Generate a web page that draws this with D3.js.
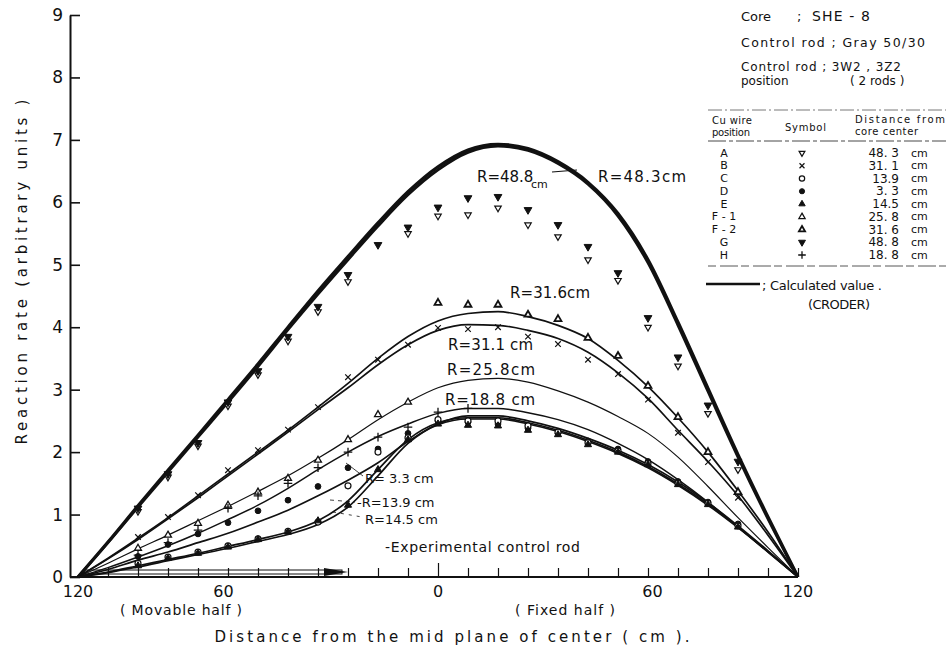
<!DOCTYPE html>
<html><head><meta charset="utf-8">
<script src="https://cdn.jsdelivr.net/npm/d3@7"></script>
<style>
body{margin:0;background:#fff;}
svg text{font-family:"DejaVu Sans",sans-serif;fill:#111;}
</style></head><body>
<svg id="c" width="949" height="657"></svg>
<script>
// ---------- DATA ----------
const yTicks = [0,1,2,3,4,5,6,7,8,9];
const xTickVals = [-110,-100,-90,-80,-70,-60,-50,-40,-30,-20,-10,0,10,20,30,40,50,60,70,80,90,100,110,120];
const xLabelPos  = [-120,-71.5,0,71.5,120];
const xLabelText = ["120","60","0","60","120"];

// calculated curves (CRODER), sampled every 10 cm
const calcX   = [-120,-110,-100,-90,-80,-70,-60,-50,-40,-30,-20,-10,0,10,20,30,40,50,60,70,80,90,100,110,120];
const calc483 = [0,0.56,1.14,1.71,2.27,2.84,3.41,4.0,4.58,5.13,5.67,6.17,6.57,6.84,6.93,6.86,6.65,6.32,5.82,5.08,4.08,3.02,1.96,0.96,0];
const calc488 = [0,0.55,1.12,1.68,2.24,2.8,3.37,3.96,4.53,5.08,5.62,6.12,6.52,6.8,6.9,6.83,6.62,6.29,5.78,5.03,4.03,2.97,1.92,0.93,0];
const calc316 = [0,0.3,0.62,0.95,1.3,1.65,2.0,2.35,2.72,3.1,3.5,3.85,4.1,4.22,4.25,4.17,4.03,3.82,3.47,3.05,2.55,2.0,1.38,0.72,0];
const calc311 = [0,0.29,0.6,0.93,1.27,1.62,1.97,2.32,2.68,3.03,3.4,3.72,3.95,4.04,4.03,3.95,3.82,3.6,3.27,2.86,2.35,1.85,1.3,0.67,0];
const calc258 = [0,0.22,0.45,0.67,0.9,1.13,1.37,1.62,1.9,2.2,2.52,2.8,3.03,3.15,3.18,3.12,2.98,2.8,2.57,2.3,1.92,1.45,0.95,0.47,0];
const calc188 = [0,0.15,0.32,0.5,0.7,0.92,1.15,1.42,1.72,2.0,2.25,2.45,2.62,2.7,2.7,2.63,2.52,2.36,2.14,1.88,1.56,1.2,0.8,0.4,0];
const calc33  = [0,0.12,0.27,0.4,0.55,0.7,0.88,1.07,1.3,1.55,1.83,2.17,2.45,2.58,2.58,2.5,2.38,2.22,2.03,1.8,1.52,1.19,0.82,0.42,0];
const calc139 = [0,0.08,0.18,0.28,0.38,0.49,0.6,0.72,0.9,1.22,1.72,2.2,2.47,2.55,2.55,2.47,2.35,2.19,2.0,1.77,1.49,1.17,0.8,0.41,0];
const calc145 = [0,0.07,0.16,0.26,0.36,0.46,0.57,0.68,0.84,1.12,1.62,2.14,2.44,2.53,2.53,2.45,2.33,2.17,1.98,1.75,1.47,1.15,0.79,0.4,0];

// measured Cu-wire values at wire positions
const wirePos = [-100,-90,-80,-70,-60,-50,-40,-30,-20,-10,0,10,20,30,40,50,60,70,80,90,100];
const measA  = [1.05,1.6,2.1,2.74,3.24,3.78,4.25,4.73,null,5.5,5.78,5.8,5.91,5.64,5.45,5.08,4.75,4.0,3.38,2.62,1.72];
const measB  = [0.64,0.96,1.31,1.71,2.03,2.36,2.72,3.2,3.48,3.72,3.99,3.97,4.0,3.85,3.73,3.48,3.25,2.84,2.31,1.84,1.27];
const measC  = [0.22,0.32,0.4,0.5,0.61,0.73,0.88,1.46,2.0,2.23,2.52,2.5,2.5,2.42,2.32,2.15,2.02,1.82,1.5,1.18,0.82];
const measD  = [0.33,0.52,0.69,0.87,1.06,1.23,1.45,1.75,2.05,2.3,2.5,2.48,2.45,2.38,2.3,2.18,2.05,1.85,1.53,1.2,0.85];
const measE  = [0.18,0.3,0.38,0.48,0.6,0.72,0.9,1.15,1.72,2.2,2.45,2.43,2.42,2.35,2.28,2.12,2.0,1.8,1.48,1.16,0.8];
const measF1 = [0.46,0.67,0.86,1.15,1.36,1.58,1.87,2.2,2.6,2.8,null,null,null,null,null,null,null,null,null,null,null];
const measF2 = [null,null,null,null,null,null,null,null,null,null,4.39,4.36,4.36,4.2,4.13,3.83,3.54,3.06,2.56,2.0,1.36];
const measG  = [1.1,1.65,2.15,2.8,3.3,3.85,4.33,4.84,5.32,5.6,5.92,6.07,6.09,5.88,5.64,5.29,4.87,4.15,3.52,2.75,1.85];
const measH  = [0.35,0.55,0.75,1.1,1.3,1.5,1.75,2.0,2.24,2.4,2.64,2.7,null,null,null,null,null,null,null,null,null];

// legend table
const legWire = ["A","B","C","D","E","F - 1","F - 2","G","H"];
const legDist = ["48. 3","31. 1","13.9","3. 3","14.5","25. 8","31. 6","48. 8","18. 8"];

// ---------- DRAW ----------
const svg = d3.select("#c");
const x = d3.scaleLinear().domain([-120,120]).range([78,798]);
const y = d3.scaleLinear().domain([0,9]).range([577,15]);

function txt(t, px, py, size, anchor, len){
  const e = svg.append("text").attr("x",px).attr("y",py).attr("text-anchor",anchor||"start")
    .attr("dominant-baseline","central").style("font-size",(size||15)+"px").text(t);
  if (len) e.attr("textLength",len).attr("lengthAdjust","spacing");
  return e;
}

// y axis
const gy = svg.append("g").attr("transform","translate(70,0)")
  .call(d3.axisLeft(y).tickValues(yTicks).tickSizeInner(-10).tickSizeOuter(0).tickPadding(7).tickFormat(d3.format("d")));
gy.select(".domain").attr("stroke","#111").attr("stroke-width",2);
gy.selectAll(".tick line").attr("stroke","#111").attr("stroke-width",1.6);
gy.selectAll(".tick text").style("font-size","17px").attr("fill","#111");

// x axis (ticks every 10 cm, labels as printed)
const gx = svg.append("g").attr("transform","translate(0,577)")
  .call(d3.axisBottom(x).tickValues(xTickVals).tickSizeInner(-8).tickSizeOuter(0).tickFormat(""));
gx.select(".domain").remove();
gx.selectAll(".tick line").attr("stroke","#111").attr("stroke-width",1.2)
  .attr("y2", d => d===0 ? -14 : -9);
svg.append("line").attr("x1",70).attr("x2",x(120)).attr("y1",y(0)).attr("y2",y(0))
  .attr("stroke","#111").attr("stroke-width",2.2);
svg.append("g").selectAll("text").data(xLabelPos).join("text")
  .attr("x", d => x(d)).attr("y", 591).attr("text-anchor","middle").attr("dominant-baseline","central")
  .style("font-size","16px").text((d,i) => xLabelText[i]);

// experimental control rod (drawn along the axis on the movable half)
svg.append("rect").attr("x",x(-118)).attr("y",y(0)-7).attr("width",x(-32)-x(-118)).attr("height",4)
  .attr("fill","none").attr("stroke","#111").attr("stroke-width",1);
svg.append("path").attr("d",`M${x(-38)},${y(0)-9} L${x(-30)},${y(0)-5} L${x(-38)},${y(0)-1} Z`).attr("fill","#111");

// calculated curves
const line = d3.line().defined(d => d[1]!=null).x(d => x(d[0])).y(d => y(d[1])).curve(d3.curveMonotoneX);
const curves = [
  {v:calc483,w:3.2},{v:calc488,w:2.8},
  {v:calc316,w:1.7},{v:calc311,w:1.7},
  {v:calc258,w:1.2},{v:calc188,w:1.5},
  {v:calc33,w:1.7},{v:calc139,w:1.7},{v:calc145,w:1.7}
];
svg.append("g").selectAll("path").data(curves).join("path")
  .attr("d", c => line(calcX.map((cx,i) => [cx, c.v[i]])))
  .attr("fill","none").attr("stroke","#111").attr("stroke-width", c => c.w);

// markers
const sym = {
  A:{type:d3.symbolTriangle2,size:30,rot:180,fill:"#fff",sw:1.2},
  B:{type:d3.symbolTimes,size:22,rot:0,fill:"none",sw:1.2},
  C:{type:d3.symbolCircle,size:28,rot:0,fill:"#fff",sw:1.2},
  D:{type:d3.symbolCircle,size:26,rot:0,fill:"#111",sw:1},
  E:{type:d3.symbolTriangle,size:22,rot:0,fill:"#111",sw:1},
  F1:{type:d3.symbolTriangle2,size:34,rot:0,fill:"#fff",sw:1.3},
  F2:{type:d3.symbolTriangle2,size:34,rot:0,fill:"#fff",sw:1.8},
  G:{type:d3.symbolTriangle,size:26,rot:180,fill:"#111",sw:1},
  H:{type:d3.symbolPlus,size:26,rot:0,fill:"none",sw:1.3}
};
const meas = [["A",measA],["G",measG],["B",measB],["F1",measF1],["F2",measF2],["H",measH],["D",measD],["C",measC],["E",measE]];
const gm = svg.append("g");
meas.forEach(([k,vals]) => {
  const s = sym[k];
  gm.append("g").selectAll("path").data(wirePos.map((p,i)=>[p,vals[i]]).filter(d=>d[1]!=null)).join("path")
    .attr("transform", d => `translate(${x(d[0])},${y(d[1])}) rotate(${s.rot})`)
    .attr("d", d3.symbol().type(s.type).size(s.size))
    .attr("fill", s.fill).attr("stroke","#111").attr("stroke-width", s.sw);
});

// curve labels
txt("R=48.8",477,177,15);
svg.append("text").attr("x",531).attr("y",188).style("font-size","11px").text("cm");
svg.append("line").attr("x1",552).attr("y1",172).attr("x2",577).attr("y2",170).attr("stroke","#111").attr("stroke-width",1.2);
txt("R=48.3cm",598,177,15,"start",88);
txt("R=31.6cm",510,293,15,"start",80);
txt("R=31.1 cm",448,345,15,"start",85);
txt("R=25.8cm",447,370,15,"start",88);
txt("R=18.8 cm",445,400,15,"start",90);
txt("R= 3.3 cm",365,478,13);
svg.append("line").attr("x1",346).attr("y1",463).attr("x2",363).attr("y2",476).attr("stroke","#111").attr("stroke-width",0.8);
txt("-R=13.9 cm",357,502,13);
svg.append("line").attr("x1",330).attr("y1",500).attr("x2",355).attr("y2",502).attr("stroke","#111").attr("stroke-width",0.8).attr("stroke-dasharray","4,4");
txt("R=14.5 cm",365,519,13);
svg.append("line").attr("x1",333).attr("y1",512).attr("x2",362).attr("y2",517).attr("stroke","#111").attr("stroke-width",0.8).attr("stroke-dasharray","3,5");
txt("-Experimental  control rod",385,547,14,"start",195);

// axis titles
svg.append("text").attr("transform","translate(22,272) rotate(-90)").attr("text-anchor","middle")
  .attr("dominant-baseline","central").style("font-size","15px")
  .attr("textLength",345).attr("lengthAdjust","spacing").text("Reaction   rate   (arbitrary   units )");
txt("( Movable   half )",181,610,14,"middle",122);
txt("( Fixed   half )",565,610,14,"middle",100);
txt("Distance   from   the   mid   plane   of   center    ( cm ).",452,637,15,"middle",475);

// top-right info
txt("Core",741,16,13); txt(";",797,16,13); txt("SHE - 8",812,16,14,"start",58);
txt("Control rod ; Gray 50/30",741,42,12.5,"start",184);
txt("Control rod  ;  3W2 , 3Z2",741,67,12,"start",160);
txt("position",741,81,12); txt("( 2 rods )",850,81,12);

// legend table
const tl = svg.append("g");
tl.append("line").attr("x1",708).attr("x2",946).attr("y1",110).attr("y2",110).attr("stroke","#555").attr("stroke-width",0.8).attr("stroke-dasharray","14,3,2,3");
tl.append("line").attr("x1",708).attr("x2",946).attr("y1",141).attr("y2",141).attr("stroke","#333").attr("stroke-width",0.9).attr("stroke-dasharray","18,3,4,3");
tl.append("line").attr("x1",708).attr("x2",946).attr("y1",266).attr("y2",266).attr("stroke","#444").attr("stroke-width",0.9).attr("stroke-dasharray","8,4,18,3");
txt("Cu  wire",712,120,10,"start",40); txt("position",712,132,10,"start",38);
txt("Symbol",785,127,10,"start",41);
txt("Distance  from",855,119,10,"start",90); txt("core  center",855,131,10,"start",63);
const rowY = d3.scaleLinear().domain([0,8]).range([153,255]);
const symKeys = ["A","B","C","D","E","F1","F2","G","H"];
legWire.forEach((w,i) => {
  txt(w,724,rowY(i),11,"middle");
  txt(legDist[i],899,rowY(i),12,"end");
  txt("cm",911,rowY(i),11);
  const s = sym[symKeys[i]];
  tl.append("path").attr("transform",`translate(802,${rowY(i)}) rotate(${s.rot})`)
    .attr("d", d3.symbol().type(s.type).size(s.size*0.8))
    .attr("fill", s.fill).attr("stroke","#111").attr("stroke-width", s.sw);
});
svg.append("line").attr("x1",706).attr("x2",760).attr("y1",284).attr("y2",284).attr("stroke","#111").attr("stroke-width",2.4);
txt("; Calculated  value .",762,285,13,"start",120);
txt("(CRODER)",808,304,13,"start",62);
</script>
</body></html>
